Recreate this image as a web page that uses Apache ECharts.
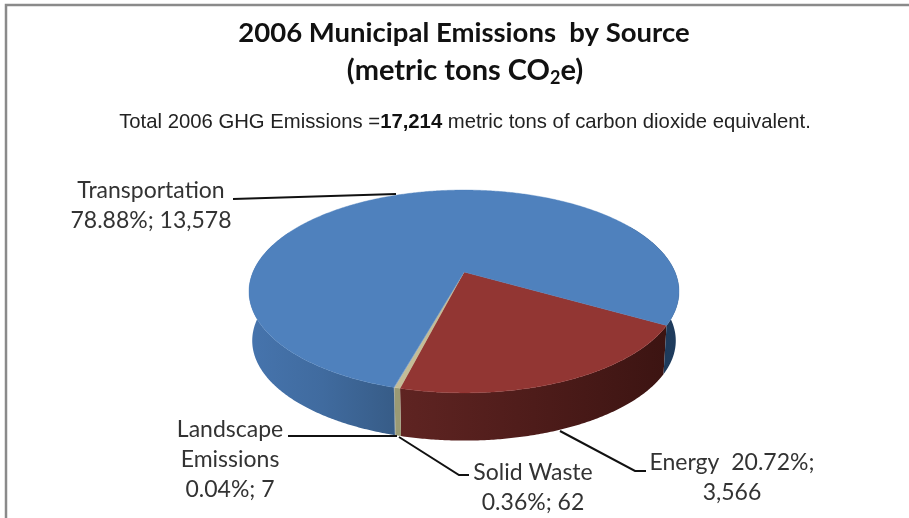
<!DOCTYPE html>
<html><head><meta charset="utf-8">
<style>html,body{margin:0;padding:0;background:#fff}#c{width:909px;height:518px}</style>
<script src="https://cdn.jsdelivr.net/npm/echarts@6/dist/echarts.min.js"></script>
</head><body><div id="c"></div>
<script>
// --- data (clockwise from the Energy slice) ---
const categories = ['Energy', 'Solid Waste', 'Landscape Emissions', 'Transportation'];
const values = [3566, 62, 7, 13578];
const percents = ['20.72%', '0.36%', '0.04%', '78.88%'];
const valueLabels = ['3,566', '62', '7', '13,578'];

// --- geometry of the tilted pie ---
const CX = 464, CY = 272, RX = 211, SY = 97.7, PERSP = 0.192, DEPTH = 49.5, BOTTOM_SCALE = 0.985;
const START = 29.7;
const total = values.reduce((a, b) => a + b, 0);
const D2R = Math.PI / 180;
const angles = [];
values.reduce((acc, v) => { angles.push([acc, acc + v / total * 360]); return acc + v / total * 360; }, START);

function proj(deg, depth) {
  const u = Math.cos(deg * D2R), v = Math.sin(deg * D2R), w = 1 - PERSP * v;
  const s = depth ? BOTTOM_SCALE : 1;
  return [CX + RX * s * u / w, CY + SY * s * v / w + (depth || 0)];
}
function arc(a, b, depth) {
  const pts = [], n = Math.max(2, Math.ceil(Math.abs(b - a) * 2));
  for (let i = 0; i <= n; i++) pts.push(proj(a + (b - a) * i / n, depth));
  return pts;
}
const topColors = ['#923633', '#c4bd97', '#9bb0c8', '#4f81bd'];
const LG = (stops) => new echarts.graphic.LinearGradient(0, 0, 1, 0, stops.map((c, i) => ({ offset: i / (stops.length - 1), color: c })));
const wallFills = [
  LG(['#5f2422', '#4e1c1a', '#3c1412']),
  LG(['#9a9a74', '#9a9a74']),
  LG(['#8a8f80', '#8a8f80'])
];
function wall(a, b, fill) {
  return { type: 'polygon', shape: { points: arc(a, b, 0).concat(arc(b, a, DEPTH)) }, style: { fill: fill }, silent: true };
}
function renderWalls(params, api) {
  const i = params.dataIndex, [a, b] = angles[i];
  if (i < 3) return wall(a, b, wallFills[i]);
  return { type: 'group', children: [
    wall(a, a + 100, LG(['#4674ad', '#406b9f', '#375c87'])),
    wall(b - 60, b, LG(['#1c3754', '#1f3c5e']))
  ] };
}
function renderTop(params, api) {
  const [a, b] = angles[params.dataIndex];
  return { type: 'polygon', shape: { points: [[CX, CY]].concat(arc(a, b, 0)) },
    style: { fill: topColors[params.dataIndex], stroke: topColors[params.dataIndex], lineWidth: 0.4 }, silent: true };
}

// --- annotation layout ---
const FONT = 'Lato, "Open Sans", sans-serif';
const labelText = [
  'Energy  ' + percents[0] + ';\n' + valueLabels[0],
  'Solid Waste\n' + percents[1] + '; ' + valueLabels[1],
  'Landscape\nEmissions\n' + percents[2] + '; ' + valueLabels[2],
  categories[3] + '\n' + percents[3] + '; ' + valueLabels[3]
];
const labelPos = [[732, 478], [533, 488], [230, 460], [151, 206]];
const leaders = [
  [[560, 431], [635, 471], [646, 471]],
  [[399, 437], [459, 475], [469, 475]],
  [[288, 436], [397, 436]],
  [[233, 199], [396, 194]]
];

const graphic = [
  { type: 'polyline', shape: { points: [[6, 518], [6, 5], [909, 5]] }, style: { stroke: '#8a8a8a', fill: null, lineWidth: 2.5 }, silent: true }
];
leaders.forEach(p => graphic.push({ type: 'polyline', shape: { points: p }, style: { stroke: '#111', fill: null, lineWidth: 2 }, z: 10, silent: true }));
labelText.forEach((t, i) => graphic.push({ type: 'text', x: labelPos[i][0], y: labelPos[i][1], z: 10, silent: true,
  style: { text: t, font: '23px ' + FONT, fill: '#333', align: 'center', verticalAlign: 'middle', lineHeight: 30 } }));

const chart = echarts.init(document.getElementById('c'), null, { renderer: 'canvas' });
chart.setOption({
  animation: false,
  backgroundColor: '#fff',
  title: [
    { text: '2006 Municipal Emissions  by Source', left: 459, top: 14, textAlign: 'center',
      textStyle: { fontFamily: FONT, fontSize: 27.5, fontWeight: 'bold', color: '#111' } },
    { text: '{t|(metric tons CO}{s|2}{t|e)}', left: 460, top: 49, textAlign: 'center',
      textStyle: { fontWeight: 'bold', rich: {
        t: { fontFamily: FONT, fontSize: 29, fontWeight: 'bold', color: '#111' },
        s: { fontFamily: FONT, fontSize: 18, fontWeight: 'bold', color: '#111', padding: [15, 0, 0, 0] } } } },
    { text: '{n|Total 2006 GHG Emissions =}{b|17,214}{n| metric tons of carbon dioxide equivalent.}', left: 460, top: 107, textAlign: 'center',
      textStyle: { fontWeight: 'normal', rich: {
        n: { fontFamily: '"Liberation Sans", Arial, sans-serif', fontSize: 20.3, fontWeight: 'normal', color: '#222' },
        b: { fontFamily: '"Liberation Sans", Arial, sans-serif', fontSize: 20.3, fontWeight: 'bold', color: '#111' } } } }
  ],
  graphic: graphic,
  series: [
    { type: 'custom', name: 'walls', coordinateSystem: 'none', renderItem: renderWalls, silent: true,
      data: categories.map((c, i) => ({ name: c, value: values[i] })), z: 1 },
    { type: 'custom', name: 'top', coordinateSystem: 'none', renderItem: renderTop, silent: true,
      data: categories.map((c, i) => ({ name: c, value: values[i] })), z: 2 }
  ]
});
</script></body></html>
